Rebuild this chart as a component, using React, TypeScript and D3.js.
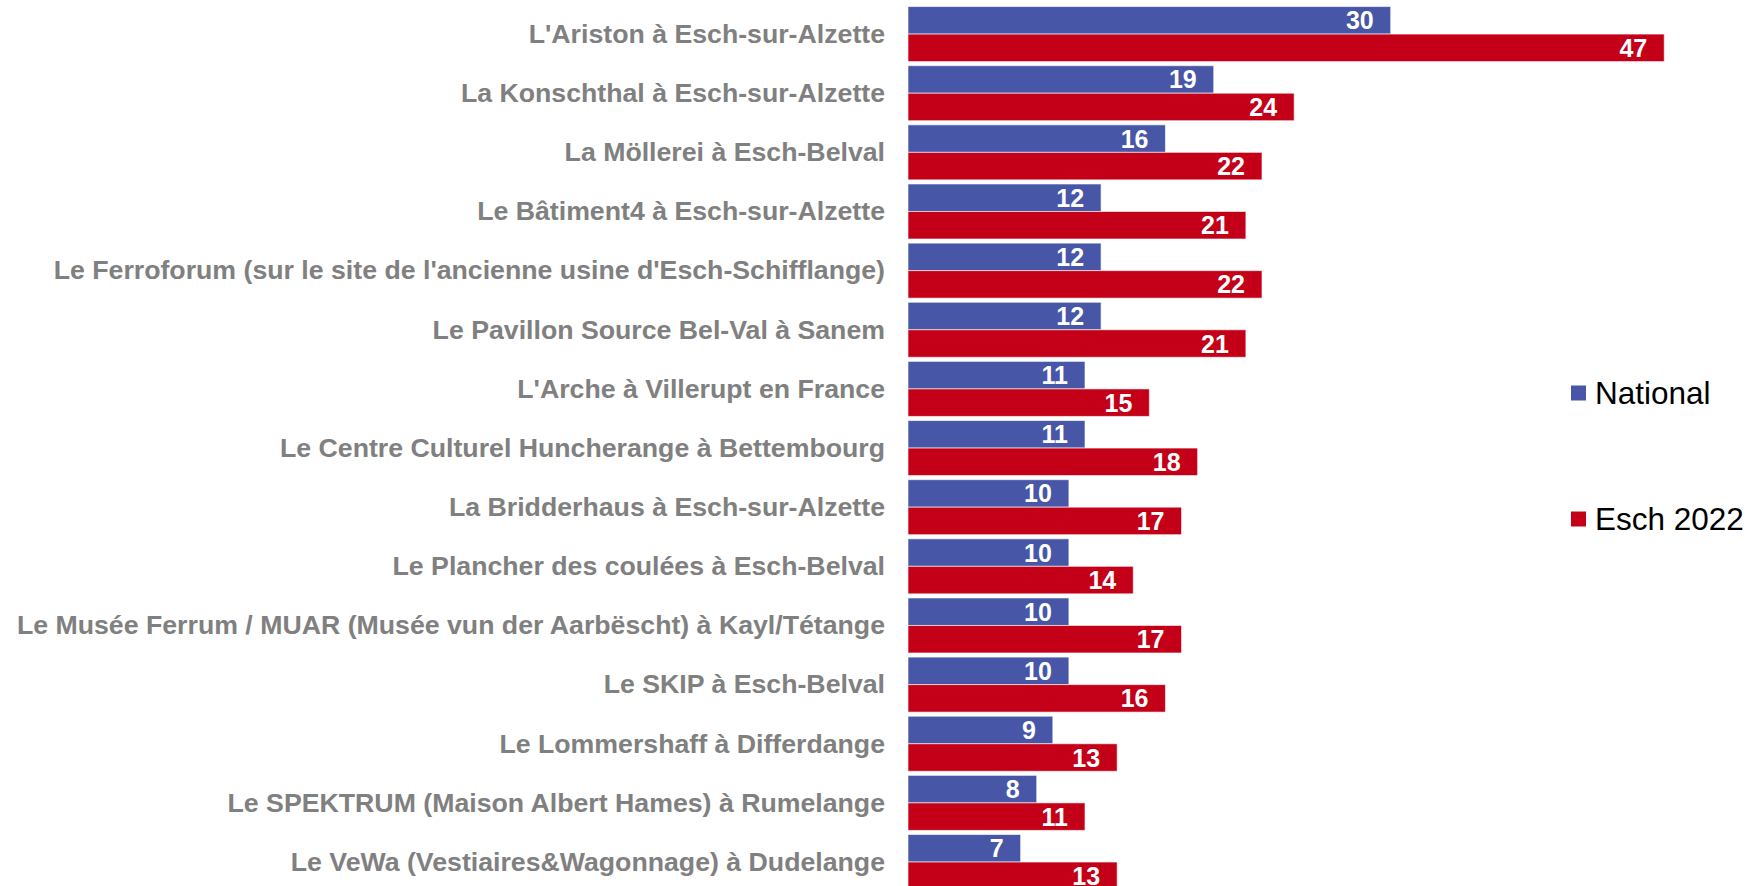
import { useEffect, useRef } from 'react';
import * as d3 from 'd3';

const venues = [
  "L'Ariston à Esch-sur-Alzette",
  'La Konschthal à Esch-sur-Alzette',
  'La Möllerei à Esch-Belval',
  'Le Bâtiment4 à Esch-sur-Alzette',
  "Le Ferroforum (sur le site de l'ancienne usine d'Esch-Schifflange)",
  'Le Pavillon Source Bel-Val à Sanem',
  "L'Arche à Villerupt en France",
  'Le Centre Culturel Huncherange à Bettembourg',
  'La Bridderhaus à Esch-sur-Alzette',
  'Le Plancher des coulées à Esch-Belval',
  'Le Musée Ferrum / MUAR (Musée vun der Aarbëscht) à Kayl/Tétange',
  'Le SKIP à Esch-Belval',
  'Le Lommershaff à Differdange',
  'Le SPEKTRUM (Maison Albert Hames) à Rumelange',
  'Le VeWa (Vestiaires&Wagonnage) à Dudelange',
];

const nationalValues = [30, 19, 16, 12, 12, 12, 11, 11, 10, 10, 10, 10, 9, 8, 7];
const eschValues = [47, 24, 22, 21, 22, 21, 15, 18, 17, 14, 17, 16, 13, 11, 13];

const seriesNames = ['National', 'Esch 2022'];
const seriesColors = ['#4756A6', '#C40018'];

const App = () => {
  const svgRef = useRef<SVGSVGElement>(null);

  useEffect(() => {
    const width = 1750;
    const height = 886;
    const svg = d3.select(svgRef.current);
    svg.selectAll('*').remove();
    svg.attr('width', width).attr('height', height);

    const x = d3.scaleLinear().domain([0, 50]).range([908, 908 + 50 * 16.09]);
    const y = d3
      .scaleBand()
      .domain(venues)
      .range([4.5, 4.5 + 15 * 59.14])
      .paddingInner(0.07)
      .paddingOuter(0.035);
    const sub = d3
      .scaleBand()
      .domain(seriesNames)
      .range([0, y.bandwidth()]);

    const series = [nationalValues, eschValues];

    series.forEach((vals, si) => {
      const g = svg.append('g');
      g.selectAll('rect')
        .data(vals)
        .enter()
        .append('rect')
        .attr('x', x(0))
        .attr('y', (d, i) => y(venues[i])! + sub(seriesNames[si])!)
        .attr('width', d => x(d) - x(0))
        .attr('height', sub.bandwidth())
        .attr('fill', seriesColors[si])
        .attr('stroke', 'rgba(255,255,255,0.6)')
        .attr('stroke-width', 1);

      // value labels
      g.selectAll('text')
        .data(vals)
        .enter()
        .append('text')
        .attr('x', d => x(d) - 17)
        .attr('y', (d, i) => y(venues[i])! + sub(seriesNames[si])! + sub.bandwidth() / 2)
        .attr('dy', '0.36em')
        .attr('text-anchor', 'end')
        .style('font-family', '"Liberation Sans", Arial, sans-serif')
        .style('font-weight', 'bold')
        .style('font-size', '25px')
        .attr('fill', '#fff')
        .text(d => d);
    });

    // category labels
    svg.append('g')
      .selectAll('text')
      .data(venues)
      .enter()
      .append('text')
      .attr('x', 885)
      .attr('y', d => y(d)! + y.bandwidth() / 2)
      .attr('dy', '0.33em')
      .attr('text-anchor', 'end')
      .style('font-family', '"Liberation Sans", Arial, sans-serif')
      .style('font-weight', 'bold')
      .style('font-size', '26.7px')
      .attr('fill', '#808080')
      .text(d => d);

    // legend
    const legendY = [393, 519];
    const legend = svg.append('g');
    seriesNames.forEach((name, i) => {
      legend.append('rect')
        .attr('x', 1571)
        .attr('y', legendY[i] - 7.5)
        .attr('width', 15)
        .attr('height', 15)
        .attr('fill', seriesColors[i]);
      legend.append('text')
        .attr('x', 1595)
        .attr('y', legendY[i])
        .attr('dy', '0.36em')
        .style('font-family', '"Liberation Sans", Arial, sans-serif')
        .style('font-size', '31.5px')
        .attr('fill', '#000')
        .text(name);
    });
  }, []);

  return (
    <div style={{ position: 'fixed', left: 0, top: 0, background: '#fff' }}>
      <svg ref={svgRef} style={{ display: 'block' }} />
    </div>
  );
};

export default App;
